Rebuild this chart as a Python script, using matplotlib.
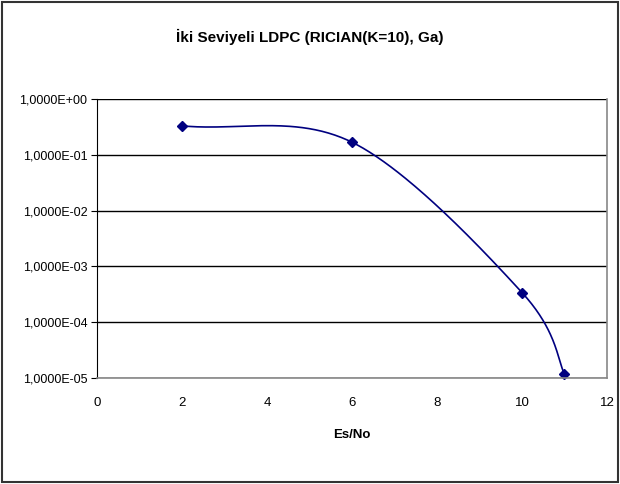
import numpy as np
import matplotlib
matplotlib.use("Agg")
import matplotlib.pyplot as plt
from matplotlib.ticker import FuncFormatter, FixedLocator
from matplotlib.patches import Rectangle

plt.rcParams['font.family'] = ['Liberation Sans Narrow', 'Liberation Sans', 'DejaVu Sans']

# Data
es_no = [2, 6, 10, 11]
ber = [0.33, 0.168, 3.4e-4, 1.18e-5]
x_ticks = [0, 2, 4, 6, 8, 10, 12]
y_ticks = [1e-5, 1e-4, 1e-3, 1e-2, 1e-1, 1e0]
title = "İki Seviyeli LDPC (RICIAN(K=10), Ga)"
x_label = "Es/No"

fig = plt.figure(figsize=(6.2, 4.84), dpi=100)
fig.patches.append(Rectangle((0.004, 0.005), 0.992, 0.99, transform=fig.transFigure,
                             fill=False, edgecolor='#333333', linewidth=1.5))

ax = fig.add_axes([0.1565, 0.219, 0.8225, 0.5765])
ax.set_yscale('log')
ax.set_xlim(0, 12)
ax.set_ylim(1e-5, 1)

ax.yaxis.set_major_locator(FixedLocator(y_ticks))
ax.yaxis.set_minor_locator(FixedLocator([]))
ax.yaxis.set_major_formatter(FuncFormatter(lambda v, p: f"{v:.4E}".replace('.', ',')))
ax.set_xticks(x_ticks)
ax.tick_params(axis='x', length=0, pad=14, labelsize=9.5)
ax.tick_params(axis='y', length=4, width=0.8, labelsize=9, pad=3)

ax.grid(axis='y', color='black', linewidth=1.0)
ax.set_axisbelow(True)
ax.spines['top'].set_visible(False)
ax.spines['left'].set_color('black')
ax.spines['right'].set_color('#888888')
ax.spines['bottom'].set_color('#888888')
ax.spines['right'].set_linewidth(1.2)
ax.spines['bottom'].set_linewidth(1.2)

# Smoothed line (Catmull-Rom Bezier in display space)
pts = ax.transData.transform(np.column_stack([es_no, ber]))
n = len(pts)
ext = np.vstack([2 * pts[0] - pts[1], pts, pts[-1]])
curve = []
t = np.linspace(0, 1, 80)[:, None]
for i in range(n - 1):
    p0, p3 = pts[i], pts[i + 1]
    c1 = p0 + (ext[i + 2] - ext[i]) / 6.0
    c2 = p3 - (ext[i + 3] - ext[i + 1]) / 6.0
    seg = ((1 - t) ** 3) * p0 + 3 * ((1 - t) ** 2) * t * c1 + 3 * (1 - t) * t ** 2 * c2 + t ** 3 * p3
    curve.append(seg)
curve = ax.transData.inverted().transform(np.vstack(curve))
ax.plot(curve[:, 0], curve[:, 1], color='#000080', linewidth=1.2, clip_on=False)
ax.plot(es_no, ber, linestyle='none', marker='D', markersize=5.5,
        color='#000080', clip_on=False)

fig.text(0.5, 0.923, title, ha='center', va='center', fontsize=11, fontweight='bold')
ax.set_xlabel(x_label, fontsize=9.5, fontweight='bold', labelpad=14)

fig.savefig('out.png', dpi=100)
